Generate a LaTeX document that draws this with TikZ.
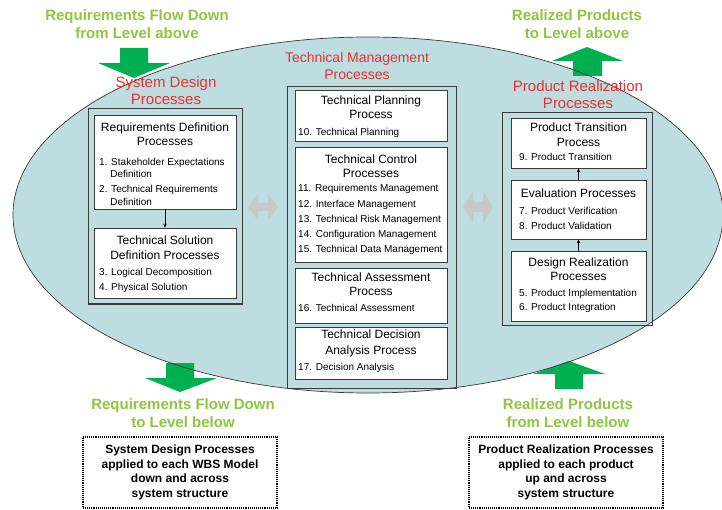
\documentclass[tikz,border=0pt]{standalone}
\usepackage{fontspec}
\setmainfont{Liberation Sans}
\usetikzlibrary{arrows.meta}
\definecolor{ellfill}{HTML}{BDDDE1}
\definecolor{arrgreen}{HTML}{00B050}
\definecolor{txtgreen}{HTML}{8DC63F}
\definecolor{txtred}{HTML}{E8312F}
\definecolor{boxline}{HTML}{3A3A3A}
\definecolor{dblgray}{HTML}{C6C8C9}
\begin{document}
\begin{tikzpicture}[x=1pt,y=-1pt,
  gtext/.style={font=\bfseries\fontsize{15}{18}\selectfont, text=txtgreen, align=center, inner sep=0pt},
  rtext/.style={font=\fontsize{15}{17}\selectfont, text=txtred, align=center, inner sep=0pt},
  obox/.style={draw=boxline, line width=1pt, inner sep=0pt},
  ibox/.style={draw=boxline, line width=0.8pt, fill=white, inner sep=0pt},
  ttl/.style={font=\fontsize{12}{14}\selectfont, align=center, inner sep=0pt},
  itm/.style={font=\fontsize{10}{12}\selectfont, anchor=west, inner sep=0pt, text height=7.2pt, text depth=0pt},
  dbox/.style={draw=black, line width=1.6pt, dash pattern=on 1pt off 0.9pt, inner sep=0pt, align=center,
     font=\bfseries\fontsize{12}{14.7}\selectfont},
  arr/.style={-{Stealth[length=4pt,width=3.5pt]}, line width=0.6pt, black},
  greenarrow/.style={fill=arrgreen},
  grayarrow/.style={fill=dblgray}
]
\useasboundingbox (0,0) rectangle (722,510);

% ellipse
\fill[ellfill] (368,215) ellipse [x radius=355pt, y radius=178pt];

% green arrows
\fill[greenarrow] (120,48) -- (148,48) -- (148,63) -- (170,63) -- (134,78) -- (98,63) -- (120,63) -- cycle;
\fill[greenarrow] (573,76) -- (602,76) -- (602,61) -- (623,61) -- (587,47) -- (552,61) -- (573,61) -- cycle;
\fill[greenarrow] (166,363) -- (194,363) -- (194,378) -- (217,378) -- (180,392) -- (145,378) -- (166,378) -- cycle;
\fill[greenarrow] (555,389) -- (583,389) -- (583,374) -- (605,374) -- (569,361) -- (533,374) -- (555,374) -- cycle;

\draw[boxline, line width=0.7pt] (368,215) ellipse [x radius=355pt, y radius=178pt];

% gray double arrows
\fill[grayarrow] (248,207) -- (258,194) -- (258,203) -- (268,203) -- (268,194) -- (278,207) -- (268,220) -- (268,211) -- (258,211) -- (258,220) -- cycle;
\fill[grayarrow] (463,207) -- (473,191) -- (473,202) -- (483,202) -- (483,191) -- (493,207) -- (483,223) -- (483,212) -- (473,212) -- (473,223) -- cycle;

% green labels
\node[gtext] (tl) at (137,24) {Requirements Flow Down\\from Level above};
\node[gtext] (tr) at (577,24) {Realized Products\\to Level above};
\node[gtext] (bl) at (183,413) {Requirements Flow Down\\to Level below};
\node[gtext] (br) at (568,413) {Realized Products\\from Level below};

% red labels
\node[rtext] (sd) at (166,90.5) {System Design\\Processes};
\node[rtext, font=\fontsize{14}{17}\selectfont] (tm) at (357,65.5) {Technical Management\\Processes};
\node[rtext] (pr) at (578,94.5) {Product Realization\\Processes};

% outer boxes
\node[obox, minimum width=154pt, minimum height=195pt] (sdo) at (165,206.5) {};
\node[obox, minimum width=169pt, minimum height=301pt] (tmo) at (371.5,237.5) {};
\node[obox, minimum width=150pt, minimum height=212pt] (pro) at (577,219) {};

% system design inner boxes
\node[ibox, minimum width=142pt, minimum height=94pt] (rd) at (165,162) {};
\node[ibox, minimum width=142pt, minimum height=70pt] (ts) at (165,263) {};
\draw[arr] (rd.south) -- (ts.north);
\node[ttl] (rdt) at (165,134.5) {Requirements Definition\\Processes};
\node[itm] (i1) at (99,162) {1. Stakeholder Expectations};
\node[itm] (i1b) at (110.1,174) {Definition};
\node[itm] (i2) at (99,189) {2. Technical Requirements};
\node[itm] (i2b) at (110.1,202) {Definition};
\node[ttl, font=\fontsize{12}{15}\selectfont] (tst) at (165,247.5) {Technical Solution\\Definition Processes};
\node[itm] (i3) at (99,272) {3. Logical Decomposition};
\node[itm] (i4) at (99,287) {4. Physical Solution};

% technical management inner boxes
\node[ibox, minimum width=152pt, minimum height=51pt] (tp) at (371,115.5) {};
\node[ibox, minimum width=152pt, minimum height=115pt] (tc) at (371,204.5) {};
\node[ibox, minimum width=152pt, minimum height=55pt] (ta) at (371,295.5) {};
\node[ibox, minimum width=152pt, minimum height=52pt] (td) at (371,353) {};
\node[ttl] (tpt) at (371,107.5) {Technical Planning\\Process};
\node[itm] (i10) at (298,132) {10. Technical Planning};
\node[ttl] (tct) at (371,166) {Technical Control\\Processes};
\node[itm] (i11) at (298,188) {11. Requirements Management};
\node[itm] (i12) at (298,204) {12. Interface Management};
\node[itm] (i13) at (298,219) {13. Technical Risk Management};
\node[itm] (i14) at (298,234) {14. Configuration Management};
\node[itm] (i15) at (298,249) {15. Technical Data Management};
\node[ttl] (tat) at (371,284) {Technical Assessment\\Process};
\node[itm] (i16) at (298,308) {16. Technical Assessment};
\node[ttl, font=\fontsize{12}{16}\selectfont] (tdt) at (371,343) {Technical Decision\\Analysis Process};
\node[itm] (i17) at (298,367) {17. Decision Analysis};

% product realization inner boxes
\node[ibox, minimum width=135pt, minimum height=50pt] (pt) at (578.5,143) {};
\node[ibox, minimum width=135pt, minimum height=59pt] (ev) at (578.5,209.5) {};
\node[ibox, minimum width=135pt, minimum height=70pt] (dr) at (578.5,286) {};
\draw[arr] (dr.north) -- (ev.south);
\draw[arr] (ev.north) -- (pt.south);
\node[ttl, font=\fontsize{12}{15}\selectfont] (ptt) at (578.5,134.5) {Product Transition\\Process};
\node[itm] (i9) at (519,157) {9. Product Transition};
\node[ttl] (evt) at (578.5,193) {Evaluation Processes};
\node[itm] (i7) at (519,211) {7. Product Verification};
\node[itm] (i8) at (519,226) {8. Product Validation};
\node[ttl] (drt) at (578.5,269) {Design Realization\\Processes};
\node[itm] (i5) at (519,293) {5. Product Implementation};
\node[itm] (i6) at (519,307) {6. Product Integration};

% dotted boxes
\node[dbox, minimum width=194pt, minimum height=71pt] (dl) at (180,472.5) {System Design Processes\\applied to each WBS Model\\down and across\\system structure};
\node[dbox, minimum width=194pt, minimum height=71pt] (dr2) at (566,472.5) {Product Realization Processes\\applied to each product\\up and across\\system structure};
\end{tikzpicture}
\end{document}
